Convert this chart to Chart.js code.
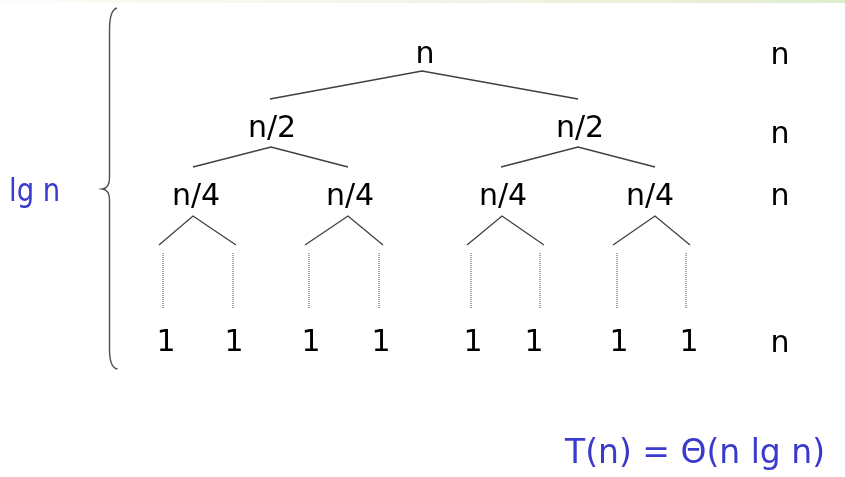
<!DOCTYPE html>
<html>
<head>
<meta charset="utf-8">
<script src="https://cdn.jsdelivr.net/npm/chart.js@4.4.1/dist/chart.umd.min.js"></script>
<style>
  html, body { margin: 0; padding: 0; background: #ffffff; }
  #wrap { width: 845px; height: 477px; position: relative; }
</style>
</head>
<body>
<div id="wrap"><canvas id="c"></canvas></div>
<script>
// ---- diagram data (chart coordinates: x 0..845, y 0..477 downward) ----
const levelLabels = ['n', 'n/2', 'n/4', '1'];
const rowCost = ['n', 'n', 'n', 'n'];
const nodeX = [
  [425],
  [272, 580],
  [196, 350, 503, 650],
  [166, 234, 311, 381, 473, 534, 619, 689]
];
const labelBaseY = [63, 137, 205, 351];
const costX = 780;
const costBaseY = [64, 143, 205, 352];

// V-shaped edges: left end -> apex -> right end
const edgeApexX  = [422, 271, 578, 193, 348, 502, 655];
const edgeApexY  = [71, 147, 147, 216, 216, 216, 216];
const edgeLeftX  = [270, 193, 501, 159, 305, 467, 613];
const edgeRightX = [578, 348, 655, 236, 383, 544, 690];
const edgeEndY   = [99, 167, 167, 245, 245, 245, 245];

// dotted continuation lines
const dotX = [163, 233, 309, 379, 471, 540, 617, 686];
const dotTopY = 253;
const dotBottomY = 308;

// brace
const braceX = 109.5;
const braceTipX = 102.5;
const braceTopY = 8;
const braceTipY = 189;
const braceBottomY = 369;

const depthLabel = 'lg n';
const resultLabel = 'T(n) = \u0398(n lg n)';

// ---- build datasets ----
const datasets = [];
for (let i = 0; i < edgeApexX.length; i++) {
  datasets.push({
    data: [
      { x: edgeLeftX[i], y: edgeEndY[i] },
      { x: edgeApexX[i], y: edgeApexY[i] },
      { x: edgeRightX[i], y: edgeEndY[i] }
    ],
    showLine: true, borderColor: '#3f3f3f', borderWidth: 1.3,
    pointRadius: 0, tension: 0
  });
}
for (let i = 0; i < dotX.length; i++) {
  datasets.push({
    data: [{ x: dotX[i], y: dotTopY }, { x: dotX[i], y: dotBottomY }],
    showLine: true, borderColor: '#7a7a7a', borderWidth: 1.4,
    borderDash: [1, 1], pointRadius: 0
  });
}

const FONT = '"DejaVu Sans", Verdana, sans-serif';

const overlay = {
  id: 'overlay',
  beforeDraw(chart) {
    const { ctx, width } = chart;
    const g = ctx.createLinearGradient(0, 0, width, 0);
    g.addColorStop(0, 'rgba(240,244,230,0.3)');
    g.addColorStop(1, 'rgba(225,236,205,1)');
    ctx.save();
    ctx.fillStyle = g;
    ctx.fillRect(0, 0, width, 3);
    ctx.restore();
  },
  afterDatasetsDraw(chart) {
    const { ctx } = chart;
    const sx = chart.scales.x, sy = chart.scales.y;
    const X = v => sx.getPixelForValue(v);
    const Y = v => sy.getPixelForValue(v);
    ctx.save();

    // brace
    ctx.strokeStyle = '#505050';
    ctx.lineWidth = 1.4;
    ctx.beginPath();
    ctx.moveTo(X(braceX + 7.5), Y(braceTopY));
    ctx.quadraticCurveTo(X(braceX), Y(braceTopY + 2), X(braceX), Y(braceTopY + 22));
    ctx.lineTo(X(braceX), Y(braceTipY - 11));
    ctx.quadraticCurveTo(X(braceX), Y(braceTipY - 1), X(braceTipX), Y(braceTipY));
    ctx.quadraticCurveTo(X(braceX), Y(braceTipY + 1), X(braceX), Y(braceTipY + 11));
    ctx.lineTo(X(braceX), Y(braceBottomY - 20));
    ctx.quadraticCurveTo(X(braceX), Y(braceBottomY - 1), X(braceX + 8), Y(braceBottomY));
    ctx.stroke();

    // node labels
    ctx.fillStyle = '#000000';
    ctx.textAlign = 'center';
    ctx.textBaseline = 'alphabetic';
    ctx.font = '30px ' + FONT;
    nodeX.forEach((row, lvl) => {
      row.forEach(x => ctx.fillText(levelLabels[lvl], X(x), Y(labelBaseY[lvl])));
    });
    // per-level cost column
    rowCost.forEach((t, lvl) => ctx.fillText(t, X(costX), Y(costBaseY[lvl])));

    // blue annotations
    ctx.fillStyle = '#3a3acc';
    ctx.textAlign = 'left';
    ctx.font = '32px ' + FONT;
    ctx.save();
    ctx.translate(X(9), Y(201));
    ctx.scale(0.86, 1);
    ctx.fillText(depthLabel, 0, 0);
    ctx.restore();
    ctx.font = '33px ' + FONT;
    ctx.fillText(resultLabel, X(565), Y(463));
    ctx.restore();
  }
};

new Chart(document.getElementById('c'), {
  type: 'scatter',
  data: { datasets },
  options: {
    responsive: true,
    maintainAspectRatio: false,
    animation: false,
    layout: { padding: 0 },
    plugins: { legend: { display: false }, tooltip: { enabled: false } },
    events: [],
    scales: {
      x: { type: 'linear', min: 0, max: 845, display: false },
      y: { type: 'linear', min: 0, max: 477, reverse: true, display: false }
    }
  },
  plugins: [overlay]
});
</script>
</body>
</html>
